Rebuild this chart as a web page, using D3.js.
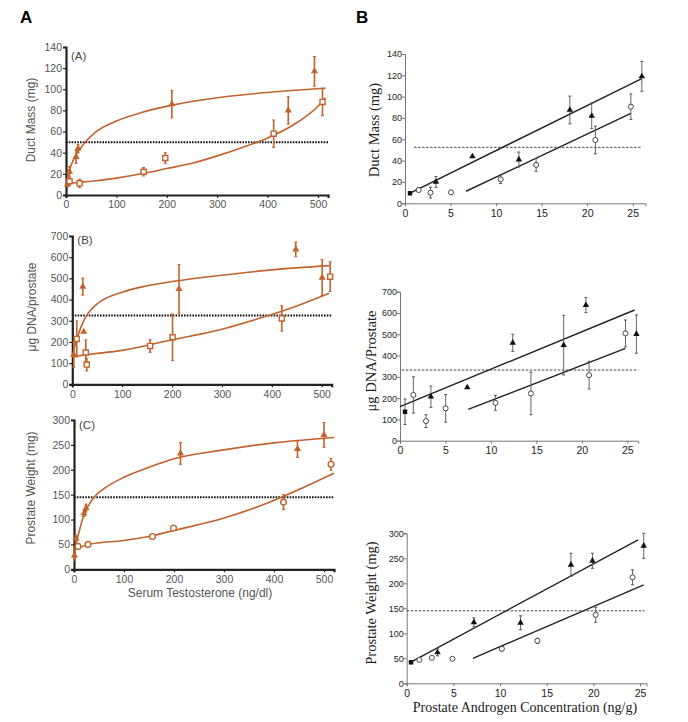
<!DOCTYPE html>
<html>
<head>
<meta charset="utf-8">
<script src="https://cdn.jsdelivr.net/npm/d3@7"></script>
<style>
  body { margin: 0; background: #fff; }
  svg { display: block; }
</style>
</head>
<body>
<div id="figureContainer"></div>
<script>
// ---- data. points are [x, y, sem]
// column A: serum testosterone (ng/dl)
let ductSerumFilled = [[3, 10, 2], [7, 22, 5], [20, 36, 6], [24, 44, 4], [210, 86, 13], [441, 80, 13], [493, 117, 14]]
let ductSerumOpen = [[7, 13, 3], [27, 11, 4], [154, 22, 4], [197, 35, 5], [412, 58, 13], [509, 88, 13]]
let ductSerumFitFilled = [[0, 8], [5, 20], [10, 28], [20, 38], [30, 45], [40, 51], [60, 60], [100, 70], [150, 78], [210, 85], [300, 92], [400, 97], [515, 101]]
let ductSerumFitOpen = [[5, 11], [30, 12], [100, 16], [160, 21], [200, 25], [250, 30], [300, 37], [350, 45], [400, 54], [450, 66], [500, 84], [515, 92]]

let dnaSerumFilled = [[3, 140, 60], [21, 461, 40], [23, 248, 0], [214, 450, 115], [448, 637, 35], [501, 503, 85]]
let dnaSerumOpen = [[9, 214, 85], [27, 150, 60], [29, 93, 30], [156, 181, 30], [201, 222, 110], [420, 311, 60], [517, 508, 70]]
let dnaSerumFitFilled = [[0, 130], [5, 180], [10, 220], [20, 285], [30, 330], [50, 380], [100, 435], [150, 465], [200, 485], [300, 515], [400, 540], [515, 560]]
let dnaSerumFitOpen = [[0, 130], [30, 140], [100, 160], [200, 210], [300, 260], [380, 315], [450, 370], [515, 430]]

let weightSerumFilled = [[1, 28, 10], [4, 62, 6], [20, 112, 6], [24, 123, 8], [213, 233, 22], [447, 242, 17], [500, 270, 25]]
let weightSerumOpen = [[8, 46, 4], [28, 50, 3], [157, 66, 3], [199, 83, 5], [419, 135, 15], [514, 211, 12]]
let weightSerumFitFilled = [[0, 25], [5, 55], [10, 75], [20, 110], [30, 130], [40, 145], [60, 162], [100, 185], [150, 205], [200, 222], [300, 240], [400, 254], [520, 265]]
let weightSerumFitOpen = [[0, 40], [30, 50], [100, 58], [150, 66], [200, 78], [300, 103], [420, 147], [460, 165], [520, 193]]

// column B: prostate androgen concentration (ng/g)
let ductAndroFilled = [[0.55, 9.4, 1], [3.4, 20, 5], [7.4, 44, 0], [12.5, 41, 7], [18.1, 87.5, 13], [20.5, 82, 12], [26, 119, 14]]
let ductAndroOpen = [[1.5, 12.5, 2], [2.8, 10, 5], [5.05, 10.3, 0], [10.5, 22.5, 4], [14.4, 36, 6], [20.9, 59.4, 13], [24.8, 90.6, 12]]
let ductAndroFitFilled = [[0.5, 9.4], [26, 117]]
let ductAndroFitOpen = [[6.7, 11.3], [24.8, 84.4]]

let dnaAndroFilled = [[0.55, 136, 60], [3.4, 207, 50], [7.4, 250, 0], [12.4, 460, 40], [18.0, 449, 140], [20.45, 637, 35], [26, 501, 90]]
let dnaAndroOpen = [[1.47, 215, 85], [2.86, 92, 30], [5.02, 152, 65], [10.5, 178, 35], [14.4, 222, 100], [20.8, 308, 65], [24.8, 504, 63]]
let dnaAndroFitFilled = [[0, 160], [25.8, 614]]
let dnaAndroFitOpen = [[7.5, 147], [24.8, 434]]

let weightAndroFilled = [[0.46, 42, 2], [3.3, 62, 7], [7.2, 122, 9], [12.2, 121, 14], [17.6, 237, 23], [19.9, 245, 15], [25.4, 275, 25]]
let weightAndroOpen = [[1.36, 47, 0], [2.7, 51, 0], [4.9, 49, 0], [10.2, 69, 4], [14, 85, 5], [20.25, 137, 15], [24.2, 212, 15]]
let weightAndroFitFilled = [[0.3, 41], [24.8, 287]]
let weightAndroFitOpen = [[7.1, 50], [25.4, 197]]

// thresholds (dotted lines)
let ductThreshold = [50, 52.5]
let dnaThreshold = [325, 332]
let weightThreshold = [145, 145]

// ticks
let serumTicks = [0, 100, 200, 300, 400, 500]
let androTicks = [0, 5, 10, 15, 20, 25]
let ductTicks = [0, 20, 40, 60, 80, 100, 120, 140]
let dnaTicks = [0, 100, 200, 300, 400, 500, 600, 700]
let weightTicks = [0, 50, 100, 150, 200, 250, 300]

let orange = '#c2622c'

let svgContainer = d3.select('#figureContainer')
  .append('svg')
  .attr('width', 688)
  .attr('height', 722)
  .style('background', '#fff')

svgContainer.append('text').text('A')
  .attr('x', 20).attr('y', 23)
  .style('font', 'bold 17px "Liberation Sans", Arial, sans-serif')
svgContainer.append('text').text('B')
  .attr('x', 356).attr('y', 23)
  .style('font', 'bold 17px "Liberation Sans", Arial, sans-serif')

let leftPanels = [
  { tag: '(A)', title: 'Duct Mass (mg)', filled: ductSerumFilled, open: ductSerumOpen,
    fitFilled: ductSerumFitFilled, fitOpen: ductSerumFitOpen, thr: ductThreshold[0], thrFrom: 0,
    yTicks: ductTicks, openShape: d3.symbolSquare,
    x0: 66, x500: 318, yb: 195, yt: 47, titleX: 32, titleY: 120, tagY: 60 },
  { tag: '(B)', title: 'μg DNA/prostate', filled: dnaSerumFilled, open: dnaSerumOpen,
    fitFilled: dnaSerumFitFilled, fitOpen: dnaSerumFitOpen, thr: dnaThreshold[0], thrFrom: 5,
    yTicks: dnaTicks, openShape: d3.symbolSquare,
    x0: 72.3, x500: 321.7, yb: 384.3, yt: 236, titleX: 33, titleY: 307, tagY: 244 },
  { tag: '(C)', title: 'Prostate Weight (mg)', filled: weightSerumFilled, open: weightSerumOpen,
    fitFilled: weightSerumFitFilled, fitOpen: weightSerumFitOpen, thr: weightThreshold[0], thrFrom: 0,
    yTicks: weightTicks, openShape: d3.symbolCircle,
    x0: 74, x500: 324, yb: 569.3, yt: 420, titleX: 32, titleY: 488, tagY: 429, xTitle: 'Serum Testosterone (ng/dl)' }
]

let rightPanels = [
  { title: 'Duct Mass (mg)', filled: ductAndroFilled, open: ductAndroOpen,
    fitFilled: ductAndroFitFilled, fitOpen: ductAndroFitOpen, thr: ductThreshold[1], thrRange: [1, 26],
    yTicks: ductTicks, x0: 405, x25: 632.7, xEnd: 26.4, yb: 203.3, yt: 54, titleX: 376, titleY: 130 },
  { title: 'μg DNA/Prostate', filled: dnaAndroFilled, open: dnaAndroOpen,
    fitFilled: dnaAndroFitFilled, fitOpen: dnaAndroFitOpen, thr: dnaThreshold[1], thrRange: [0.2, 26.2],
    yTicks: dnaTicks, x0: 400, x25: 627.3, xEnd: 26.2, yb: 440.7, yt: 291.7, titleX: 373, titleY: 361 },
  { title: 'Prostate Weight (mg)', filled: weightAndroFilled, open: weightAndroOpen,
    fitFilled: weightAndroFitFilled, fitOpen: weightAndroFitOpen, thr: weightThreshold[1], thrRange: [0, 25.5],
    yTicks: weightTicks, x0: 406.7, x25: 640, xEnd: 25.7, yb: 683.3, yt: 533.3, titleX: 373, titleY: 603,
    xTitle: 'Prostate Androgen Concentration (ng/g)' }
]

function drawErrorBars(g, data, xScale, yScale, color, width) {
  let bars = data.filter(d => d[2] > 0)
  g.selectAll(null).data(bars).enter().append('line')
    .attr('x1', d => xScale(d[0])).attr('x2', d => xScale(d[0]))
    .attr('y1', d => yScale(d[1] - d[2])).attr('y2', d => yScale(d[1] + d[2]))
    .attr('stroke', color).attr('stroke-width', width)
  // little caps
  g.selectAll(null).data(bars.flatMap(d => [d[1] - d[2], d[1] + d[2]].map(v => [d[0], v])))
    .enter().append('line')
    .attr('x1', d => xScale(d[0]) - 1.5).attr('x2', d => xScale(d[0]) + 1.5)
    .attr('y1', d => yScale(d[1])).attr('y2', d => yScale(d[1]))
    .attr('stroke', color).attr('stroke-width', 1)
}

// -- left column, orange
leftPanels.forEach(p => {
  let g = svgContainer.append('g')
  let xScale = d3.scaleLinear().domain([0, 500]).range([p.x0, p.x500])
  let yScale = d3.scaleLinear().domain([0, d3.max(p.yTicks)]).range([p.yb, p.yt])
  let xAxisScale = xScale.copy().domain([0, 520]).range([p.x0, xScale(520)])

  let xAxis = g.append('g')
    .attr('transform', `translate(0, ${p.yb})`)
    .call(d3.axisBottom(xAxisScale).tickValues(serumTicks).tickSizeOuter(0).tickSize(3))
  let yAxis = g.append('g')
    .attr('transform', `translate(${p.x0}, 0)`)
    .call(d3.axisLeft(yScale).tickValues(p.yTicks).tickSizeOuter(0).tickSize(3))
  ;[xAxis, yAxis].forEach(ax => {
    ax.select('.domain').attr('stroke', '#222').attr('stroke-width', 2.2)
    ax.selectAll('.tick line').attr('stroke', '#222').attr('stroke-width', 1.2)
    ax.selectAll('.tick text').attr('fill', '#555')
      .style('font', '10.5px "Liberation Sans", Arial, sans-serif')
  })
  yAxis.selectAll('.tick text').attr('x', -4)

  g.append('text').text(p.tag)
    .attr('x', p.x0 + 5).attr('y', p.tagY)
    .attr('fill', '#444')
    .style('font', '11.5px "Liberation Sans", Arial, sans-serif')

  g.append('text').text(p.title)
    .attr('transform', `translate(${p.titleX}, ${p.titleY}) rotate(-90)`)
    .attr('text-anchor', 'middle').attr('dominant-baseline', 'middle')
    .attr('fill', '#555')
    .style('font', '12px "Liberation Sans", Arial, sans-serif')

  if (p.xTitle) {
    g.append('text').text(p.xTitle)
      .attr('x', 200).attr('y', 597)
      .attr('text-anchor', 'middle')
      .attr('fill', '#555')
      .style('font', '12px "Liberation Sans", Arial, sans-serif')
  }

  // dotted threshold
  g.append('line')
    .attr('x1', xScale(p.thrFrom)).attr('x2', xScale(520))
    .attr('y1', yScale(p.thr)).attr('y2', yScale(p.thr))
    .attr('stroke', '#111').attr('stroke-width', 2).attr('stroke-dasharray', '1.6,1.2')

  let line = d3.line().x(d => xScale(d[0])).y(d => yScale(d[1])).curve(d3.curveMonotoneX)
  ;[p.fitFilled, p.fitOpen].forEach(fit => {
    g.append('path').attr('d', line(fit))
      .attr('fill', 'none').attr('stroke', orange).attr('stroke-width', 1.6)
  })

  drawErrorBars(g, p.filled, xScale, yScale, orange, 1.6)
  drawErrorBars(g, p.open, xScale, yScale, orange, 1.6)

  g.selectAll('.tri').data(p.filled).enter().append('path')
    .attr('d', d3.symbol().type(d3.symbolTriangle).size(22))
    .attr('transform', d => `translate(${xScale(d[0])}, ${yScale(d[1])})`)
    .attr('fill', orange)
  g.selectAll('.opn').data(p.open).enter().append('path')
    .attr('d', d3.symbol().type(p.openShape).size(26))
    .attr('transform', d => `translate(${xScale(d[0])}, ${yScale(d[1])})`)
    .attr('fill', '#fff').attr('stroke', orange).attr('stroke-width', 1.4)
})

// -- right column, black
rightPanels.forEach(p => {
  let g = svgContainer.append('g')
  let xScale = d3.scaleLinear().domain([0, 25]).range([p.x0, p.x25])
  let yScale = d3.scaleLinear().domain([0, d3.max(p.yTicks)]).range([p.yb, p.yt])
  let xAxisScale = xScale.copy().domain([0, p.xEnd]).range([p.x0, xScale(p.xEnd)])

  let xAxis = g.append('g')
    .attr('transform', `translate(0, ${p.yb})`)
    .call(d3.axisBottom(xAxisScale).tickValues(androTicks).tickSizeOuter(0).tickSize(3))
  let yAxis = g.append('g')
    .attr('transform', `translate(${p.x0}, 0)`)
    .call(d3.axisLeft(yScale).tickValues(p.yTicks).tickSizeOuter(0).tickSize(3))
  ;[xAxis, yAxis].forEach(ax => {
    ax.select('.domain').attr('stroke', '#777').attr('stroke-width', 1)
    ax.selectAll('.tick line').attr('stroke', '#777')
    ax.selectAll('.tick text').attr('fill', '#222')
  })
  xAxis.selectAll('.tick text').style('font', '10.5px "Liberation Sans", Arial, sans-serif')
  yAxis.selectAll('.tick text').attr('x', -3)
    .style('font', '9px "Liberation Sans", Arial, sans-serif')

  g.append('text').text(p.title)
    .attr('transform', `translate(${p.titleX}, ${p.titleY}) rotate(-90)`)
    .attr('text-anchor', 'middle').attr('dominant-baseline', 'middle')
    .attr('fill', '#222')
    .style('font', '14.5px "Liberation Serif", "Times New Roman", serif')

  if (p.xTitle) {
    g.append('text').text(p.xTitle)
      .attr('x', 525).attr('y', 712)
      .attr('text-anchor', 'middle')
      .attr('fill', '#222')
      .style('font', '14px "Liberation Serif", "Times New Roman", serif')
  }

  g.append('line')
    .attr('x1', xScale(p.thrRange[0])).attr('x2', xScale(p.thrRange[1]))
    .attr('y1', yScale(p.thr)).attr('y2', yScale(p.thr))
    .attr('stroke', '#444').attr('stroke-width', 1).attr('stroke-dasharray', '2.5,1.5')

  let line = d3.line().x(d => xScale(d[0])).y(d => yScale(d[1]))
  ;[p.fitFilled, p.fitOpen].forEach(fit => {
    g.append('path').attr('d', line(fit))
      .attr('fill', 'none').attr('stroke', '#222').attr('stroke-width', 1.4)
  })

  drawErrorBars(g, p.filled, xScale, yScale, '#555', 0.9)
  drawErrorBars(g, p.open, xScale, yScale, '#555', 0.9)

  g.selectAll('.tri').data(p.filled).enter().append('path')
    .attr('d', (d, i) => d3.symbol().type(i === 0 ? d3.symbolSquare : d3.symbolTriangle).size(i === 0 ? 20 : 18)())
    .attr('transform', d => `translate(${xScale(d[0])}, ${yScale(d[1])})`)
    .attr('fill', '#111')
  g.selectAll('.opn').data(p.open).enter().append('path')
    .attr('d', d3.symbol().type(d3.symbolCircle).size(20))
    .attr('transform', d => `translate(${xScale(d[0])}, ${yScale(d[1])})`)
    .attr('fill', '#fff').attr('stroke', '#333').attr('stroke-width', 0.9)
})
</script>
</body>
</html>
